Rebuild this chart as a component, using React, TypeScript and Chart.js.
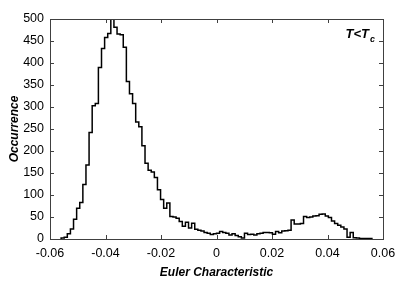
import React, { useEffect, useRef } from "react";
import { Chart, registerables } from "chart.js";

Chart.register(...registerables);

// Histogram: 100 bins spanning [-0.056, 0.056]
const binStart = -0.056;
const binWidth = 0.00112;
const counts = [
  1, 2, 4, 12, 23, 45, 70, 83, 124, 168,
  242, 303, 308, 390, 433, 458, 467, 505, 481, 466,
  464, 436, 358, 330, 308, 266, 255, 212, 172, 156,
  152, 140, 112, 90, 70, 82, 51, 50, 47, 40,
  29, 38, 25, 36, 22, 20, 18, 15, 13, 10,
  12, 13, 17, 15, 13, 9, 12, 8, 5, 2,
  13, 10, 11, 9, 12, 13, 15, 15, 14, 11,
  17, 14, 18, 19, 20, 43, 34, 34, 35, 51,
  49, 50, 52, 53, 56, 57, 52, 49, 41, 35,
  31, 27, 23, 4, 15, 3, 2, 1, 1, 1,
];

const xTickLabels = ["-0.06", "-0.04", "-0.02", "0", "0.02", "0.04", "0.06"];
const yTickLabels = ["0", "50", "100", "150", "200", "250", "300", "350", "400", "450", "500"];
const xTitle = "Euler Characteristic";
const yTitle = "Occurrence";
const noteMain = "T<T";
const noteSub = "c";

const FONT = "'Liberation Sans', Arial, Helvetica, sans-serif";

export default function App() {
  const ref = useRef<HTMLCanvasElement | null>(null);

  useEffect(() => {
    if (!ref.current) return;
    const pts: { x: number; y: number }[] = [{ x: binStart, y: 0 }];
    counts.forEach((c, k) => pts.push({ x: binStart + k * binWidth, y: c }));
    const end = binStart + counts.length * binWidth;
    pts.push({ x: end, y: counts[counts.length - 1] });
    pts.push({ x: end, y: 0 });

    const frame = {
      id: "frame",
      afterDraw(chart: any) {
        const { ctx, chartArea: a, scales } = chart;
        const xs = scales.x;
        const ys = scales.y;
        ctx.save();
        ctx.strokeStyle = "#404040";
        ctx.lineWidth = 1;
        ctx.strokeRect(Math.round(a.left) + 0.5, Math.round(a.top) + 0.5, Math.round(a.right - a.left), Math.round(a.bottom - a.top));
        const L = 4;
        ctx.beginPath();
        xs.ticks.forEach((t: any) => {
          const px = Math.round(xs.getPixelForValue(t.value)) + 0.5;
          ctx.moveTo(px, a.bottom);
          ctx.lineTo(px, a.bottom - L);
          ctx.moveTo(px, a.top);
          ctx.lineTo(px, a.top + L);
        });
        ys.ticks.forEach((t: any) => {
          const py = Math.round(ys.getPixelForValue(t.value)) + 0.5;
          ctx.moveTo(a.left, py);
          ctx.lineTo(a.left + L, py);
          ctx.moveTo(a.right, py);
          ctx.lineTo(a.right - L, py);
        });
        ctx.stroke();

        ctx.fillStyle = "#000";
        ctx.textBaseline = "alphabetic";
        ctx.textAlign = "left";
        ctx.font = `italic bold 13px ${FONT}`;
        const w = ctx.measureText(noteMain).width;
        ctx.font = `italic bold 9px ${FONT}`;
        const ws = ctx.measureText(noteSub).width;
        const x0 = a.right - 9 - w - ws;
        ctx.font = `italic bold 13px ${FONT}`;
        ctx.fillText(noteMain, x0, 38);
        ctx.font = `italic bold 9px ${FONT}`;
        ctx.fillText(noteSub, x0 + w + 1, 42);
        ctx.restore();
      },
    };

    const chart = new Chart(ref.current, {
      type: "line",
      data: {
        datasets: [
          {
            data: pts,
            stepped: "after",
            borderColor: "#000",
            borderWidth: 1.5,
            pointRadius: 0,
            fill: false,
          },
        ],
      },
      options: {
        animation: false,
        responsive: false,
        devicePixelRatio: 1,
        layout: { padding: { top: 19, right: 20, left: 0, bottom: 0 } },
        plugins: { legend: { display: false }, tooltip: { enabled: false } },
        scales: {
          x: {
            type: "linear",
            min: -0.06,
            max: 0.06,
            grid: { display: false, drawTicks: false },
            border: { display: false },
            ticks: {
              stepSize: 0.02,
              autoSkip: false,
              maxRotation: 0,
              padding: 7,
              color: "#000",
              font: { family: FONT, size: 12.5 },
              callback: (_v: any, i: number) => xTickLabels[i],
            },
            title: {
              display: true,
              text: xTitle,
              color: "#000",
              font: { family: FONT, size: 12, weight: "bold", style: "italic" },
              padding: { top: 0, bottom: 2 },
            },
            afterFit: (s: any) => {
              s.height = 43;
            },
          },
          y: {
            type: "linear",
            min: 0,
            max: 500,
            grid: { display: false, drawTicks: false },
            border: { display: false },
            ticks: {
              stepSize: 50,
              autoSkip: false,
              padding: 6,
              color: "#000",
              font: { family: FONT, size: 12.5 },
              callback: (_v: any, i: number) => yTickLabels[i],
            },
            title: {
              display: true,
              text: yTitle,
              color: "#000",
              font: { family: FONT, size: 12, weight: "bold", style: "italic" },
              padding: { top: 7, bottom: 0 },
            },
            afterFit: (s: any) => {
              s.width = 50;
            },
          },
        },
      },
      plugins: [frame],
    });
    return () => chart.destroy();
  }, []);

  return (
    <div style={{ position: "fixed", left: 0, top: 0, width: 403, height: 282, background: "#fff" }}>
      <canvas ref={ref} width={403} height={282} style={{ width: 403, height: 282, display: "block" }} />
    </div>
  );
}
